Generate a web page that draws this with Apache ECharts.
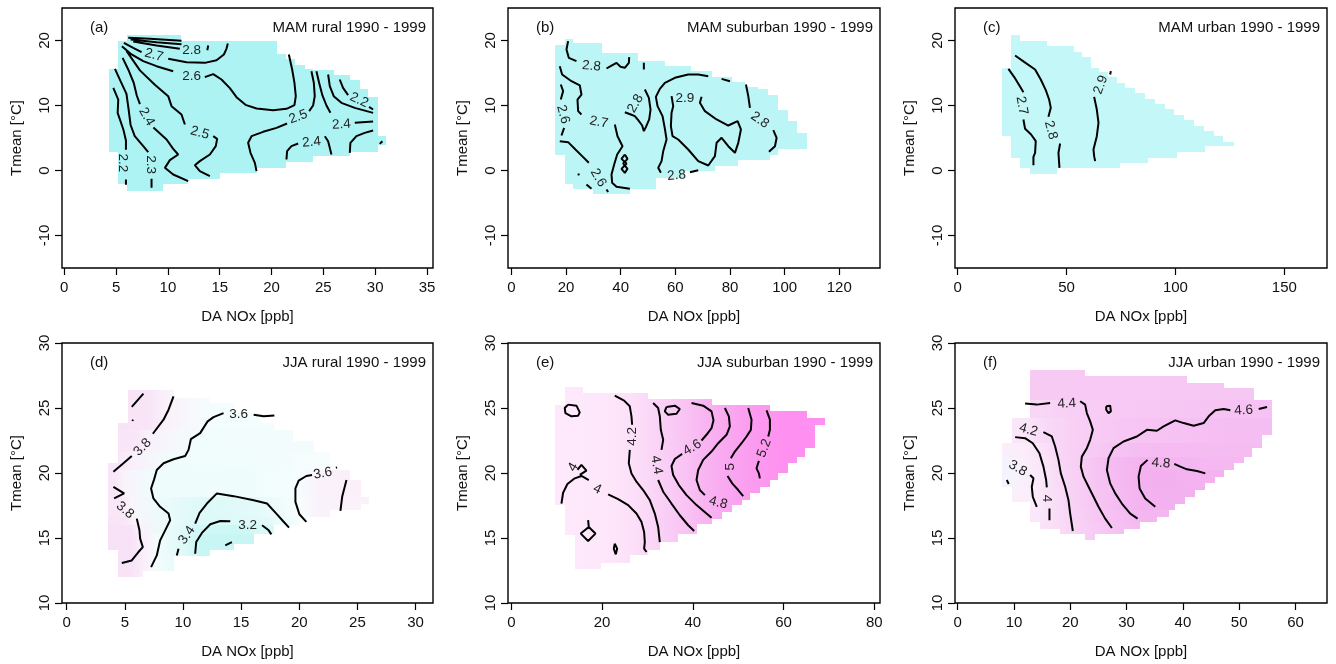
<!DOCTYPE html>
<html>
<head>
<meta charset="utf-8">
<script src="https://cdn.jsdelivr.net/npm/echarts@6/dist/echarts.min.js"></script>
<style>
  html, body { margin: 0; padding: 0; background: #fff; }
  #chart { width: 1336px; height: 664px; }
</style>
</head>
<body>
<div id="chart"></div>
<script>
// ---------- axes ----------
const FONT = '"Liberation Sans", Arial, sans-serif';
const yTicksMAM = [-10, 0, 10, 20];
const yTicksJJA = [10, 15, 20, 25, 30];
const xTicksA = [0, 5, 10, 15, 20, 25, 30, 35];
const xTicksB = [0, 20, 40, 60, 80, 100, 120];
const xTicksC = [0, 50, 100, 150];
const xTicksD = [0, 5, 10, 15, 20, 25, 30];
const xTicksE = [0, 20, 40, 60, 80];
const xTicksF = [0, 10, 20, 30, 40, 50, 60];

// ---------- filled (data-covered) cells: [yLow, yHigh, xLeft, xRight] ----------
const maskA = [
  [-3.08, -2.15, 6.01, 9.55], [-2.15, -1.38, 5.21, 11.96], [-1.38, -0.36, 5.21, 15.01],
  [-0.36, 0.4, 5.21, 18.55], [0.4, 1.28, 5.21, 21.44], [1.28, 2.2, 5.21, 24.0],
  [2.2, 2.9, 5.21, 27.55], [2.9, 4.0, 4.31, 30.28], [4.0, 5.38, 4.31, 31.08],
  [5.38, 11.33, 4.31, 30.28], [11.33, 12.6, 4.31, 29.3], [12.6, 13.85, 4.31, 28.5],
  [13.85, 14.7, 4.31, 27.55], [14.7, 15.4, 4.31, 26.0], [15.4, 15.64, 4.31, 24.0],
  [15.64, 16.3, 5.21, 23.2], [16.3, 17.1, 5.21, 22.3], [17.1, 17.85, 5.21, 21.4],
  [17.85, 19.9, 5.21, 20.48], [19.9, 20.77, 6.01, 11.31]
];
const maskB = [
  [-3.69, -2.9, 29.9, 43.35], [-2.9, -2.15, 22.6, 53.1], [-2.15, -1.13, 19.5, 53.1],
  [-1.13, -0.1, 19.5, 63.5], [-0.1, 0.67, 19.5, 74.5], [0.67, 1.54, 19.5, 83.0],
  [1.54, 2.36, 19.5, 94.6], [2.36, 3.33, 15.9, 97.7], [3.33, 5.79, 15.9, 108.1],
  [5.79, 7.59, 15.9, 104.4], [7.59, 9.38, 15.9, 101.3], [9.38, 11.69, 15.9, 97.7],
  [11.69, 12.56, 15.9, 94.0], [12.56, 12.87, 15.9, 90.35], [12.87, 13.59, 15.9, 85.5],
  [13.59, 14.41, 15.9, 80.6], [14.41, 15.38, 15.9, 73.3], [15.38, 16.15, 15.9, 65.9],
  [16.15, 16.92, 15.9, 56.2], [16.92, 18.1, 15.9, 46.4], [18.1, 19.38, 15.9, 33.0],
  [19.38, 19.64, 19.5, 33.0], [19.64, 20.26, 19.5, 22.6]
];
const maskC = [
  [-0.5, 0.4, 33.2, 45.5], [0.4, 1.1, 28.7, 74.6], [1.1, 2.0, 28.7, 87.6],
  [2.0, 2.8, 24.4, 100.7], [2.8, 3.7, 24.4, 113.7], [3.7, 4.4, 24.4, 126.7],
  [4.4, 5.3, 24.4, 122.0], [5.3, 6.1, 20.2, 117.5], [6.1, 6.9, 20.2, 113.0],
  [6.9, 7.7, 20.2, 108.5], [7.7, 8.5, 20.2, 104.0], [8.5, 9.4, 20.2, 99.5],
  [9.4, 10.2, 20.2, 95.0], [10.2, 11.0, 20.2, 90.5], [11.0, 11.9, 20.2, 86.0],
  [11.9, 12.7, 20.2, 81.5], [12.7, 13.5, 20.2, 77.0], [13.5, 14.4, 20.2, 73.0],
  [14.4, 15.2, 20.2, 69.0], [15.2, 15.8, 20.2, 65.0], [15.8, 17.4, 24.4, 61.0],
  [17.4, 18.3, 24.4, 57.0], [18.3, 19.1, 24.4, 53.2], [19.1, 19.9, 24.4, 40.9],
  [19.9, 20.8, 24.4, 28.7]
];
const maskD = [
  [11.98, 12.5, 4.45, 6.6], [12.5, 13.58, 4.45, 9.19], [13.58, 14.05, 4.45, 12.35],
  [14.05, 14.56, 3.59, 14.36], [14.56, 15.34, 3.59, 16.08], [15.34, 15.98, 3.59, 17.8],
  [15.98, 16.6, 3.59, 20.1], [16.6, 17.14, 3.59, 22.68], [17.14, 17.65, 3.59, 25.27],
  [17.65, 18.17, 3.59, 25.98], [18.17, 19.5, 3.59, 25.27], [19.5, 20.23, 3.59, 24.4],
  [20.23, 20.75, 3.59, 22.7], [20.75, 21.65, 4.45, 22.68], [21.65, 22.5, 4.45, 21.25],
  [22.5, 23.3, 4.45, 19.5], [23.3, 23.84, 4.45, 17.8], [23.84, 24.6, 5.31, 16.5],
  [24.6, 25.39, 5.31, 14.36], [25.39, 25.77, 5.31, 12.35], [25.77, 26.37, 5.31, 9.19]
];
const maskE = [
  [12.63, 13.07, 13.97, 19.85], [13.07, 13.66, 13.97, 26.1], [13.66, 14.05, 13.97, 30.15],
  [14.05, 14.69, 13.97, 32.72], [14.69, 15.21, 13.97, 36.76], [15.21, 15.34, 11.76, 36.76],
  [15.34, 16.06, 11.76, 40.81], [16.06, 16.49, 11.76, 44.12], [16.49, 17.01, 11.76, 46.32],
  [17.01, 17.53, 11.76, 48.53], [17.53, 17.91, 9.71, 50.74], [17.91, 18.43, 9.71, 52.57],
  [18.43, 18.94, 9.71, 54.78], [18.94, 19.46, 9.71, 56.99], [19.46, 19.97, 9.71, 58.82],
  [19.97, 20.75, 9.71, 61.03], [20.75, 21.26, 9.71, 62.87], [21.26, 21.91, 9.71, 64.71],
  [21.91, 23.71, 9.71, 66.91], [23.71, 24.23, 9.71, 69.12], [24.23, 24.74, 9.71, 65.07],
  [24.74, 25.26, 9.71, 56.99], [25.26, 25.7, 11.76, 44.12], [25.7, 26.16, 11.76, 30.15],
  [26.16, 26.62, 11.76, 15.81]
];
const maskF = [
  [14.82, 15.34, 22.64, 24.42], [15.34, 15.72, 18.2, 29.46], [15.72, 16.24, 14.64, 32.42],
  [16.24, 16.62, 12.86, 35.39], [16.62, 17.14, 12.86, 37.46], [17.14, 17.65, 12.86, 38.65],
  [17.65, 17.78, 12.86, 40.43], [17.78, 18.17, 9.6, 40.43], [18.17, 18.69, 9.6, 42.21],
  [18.69, 18.94, 9.6, 43.98], [18.94, 19.2, 7.82, 43.98], [19.2, 19.72, 7.82, 45.76],
  [19.72, 20.23, 7.82, 47.24], [20.23, 20.75, 7.82, 49.02], [20.75, 21.26, 7.82, 50.8],
  [21.26, 21.91, 7.82, 52.28], [21.91, 22.29, 7.82, 54.06], [22.29, 22.94, 9.6, 54.06],
  [22.94, 24.23, 9.6, 55.84], [24.23, 25.64, 12.86, 55.84], [25.64, 26.55, 12.86, 52.58],
  [26.55, 26.93, 12.86, 47.24], [26.93, 27.45, 12.86, 40.72], [27.45, 27.91, 12.86, 22.64]
];

// ---------- O3 level nodes for the shading: [from y, [[x, level], ...]] ----------
const shadeFlat = [[-100, [[-100, 0]]]];
const shadeD = [
  [11.9,  [[0, 3.9], [5.5, 3.88], [6.8, 3.72], [7.8, 3.55], [10.5, 3.3], [11.5, 3.15], [14, 3.15]]],
  [15.3,  [[0, 3.9], [5.5, 3.88], [6.2, 3.72], [8.7, 3.45], [11.8, 3.2], [15, 3.18], [17, 3.3]]],
  [15.95, [[0, 3.88], [5, 3.85], [6.0, 3.7], [9.0, 3.45], [11.2, 3.32], [17, 3.35], [18.8, 3.5], [20, 3.55]]],
  [16.55, [[0, 3.85], [4.5, 3.82], [5.5, 3.68], [8.2, 3.46], [12.0, 3.33], [16, 3.38], [18.0, 3.48], [20.0, 3.6], [21.5, 3.7], [24, 3.72]]],
  [18.15, [[0, 3.86], [4.2, 3.84], [5, 3.7], [7.4, 3.5], [15, 3.5], [19.8, 3.58], [21.5, 3.7], [24, 3.74]]],
  [20.2,  [[0, 3.85], [4.5, 3.82], [6, 3.72], [9.0, 3.52], [18, 3.54], [22, 3.6]]],
  [21.6,  [[0, 3.88], [6, 3.84], [7, 3.72], [11.0, 3.53], [18, 3.55]]],
  [23.25, [[0, 3.9], [7, 3.86], [8.5, 3.72], [12.5, 3.57], [16, 3.57]]]
];
const shadeE = [
  [0, [[0, 4.0], [14, 4.02], [18, 4.05], [22, 4.1], [25, 4.17], [27, 4.24], [29, 4.3], [31, 4.38],
       [33, 4.46], [35, 4.54], [37, 4.62], [39, 4.7], [41, 4.78], [43, 4.86], [45, 4.93], [47, 5.0],
       [50, 5.08], [53, 5.16], [56, 5.24], [59, 5.32], [62, 5.38]]]
];
const shadeF = [
  [14.8,  [[0, 4.0], [16, 4.1], [18, 4.2], [20.4, 4.3], [22, 4.38], [24, 4.45], [26, 4.52], [28, 4.6], [30, 4.66], [32, 4.72]]],
  [16.2,  [[0, 3.9], [14, 4.0], [16, 4.1], [18, 4.2], [20, 4.3], [22, 4.4], [24, 4.48], [26, 4.56], [28.5, 4.64], [31, 4.72], [33, 4.78]]],
  [17.1,  [[0, 3.8], [13, 3.9], [14.5, 4.0], [16, 4.1], [18, 4.2], [19.5, 4.3], [21.5, 4.4], [23.5, 4.48], [25.5, 4.56], [28, 4.66], [30, 4.74], [32.5, 4.82], [36, 4.86]]],
  [18.9,  [[0, 3.72], [9.6, 3.78], [11, 3.85], [13, 3.93], [15, 4.02], [16.5, 4.12], [18, 4.22], [19.5, 4.3], [21, 4.38], [22.8, 4.46], [25, 4.56], [27, 4.66], [29.5, 4.74], [32.3, 4.84], [36, 4.88], [40, 4.84]]],
  [20.2,  [[0, 3.75], [10, 3.82], [12, 3.9], [13.5, 3.98], [15.5, 4.08], [17, 4.18], [18.5, 4.28], [20.5, 4.38], [22.2, 4.46], [24.5, 4.56], [26.6, 4.66], [29, 4.74], [33, 4.82], [38, 4.8], [44, 4.74]]],
  [21.2,  [[0, 3.82], [11.5, 3.92], [13.5, 4.0], [15, 4.1], [16.5, 4.2], [18, 4.3], [20.5, 4.38], [23, 4.45], [26, 4.52], [28, 4.6], [32, 4.66], [37, 4.7], [44, 4.68]]],
  [22.25, [[0, 3.98], [12, 4.05], [14, 4.15], [16, 4.25], [18.5, 4.32], [21, 4.38], [24, 4.44], [28, 4.5], [32, 4.55], [38, 4.6], [45, 4.64], [50, 4.66]]],
  [23.5,  [[0, 4.22], [15, 4.28], [18, 4.34], [21, 4.4], [24, 4.44], [30, 4.48], [38, 4.52], [45, 4.56], [50, 4.6]]],
  [25.3,  [[0, 4.45], [18, 4.47], [30, 4.48], [40, 4.5], [48, 4.52]]]
];

// ---------- contour lines (x, y) ----------
const contoursA = [
  [[6.17, 20.41], [8.26, 20.26], [11.31, 19.95]],
  [[6.4, 20.15], [8.9, 19.74], [11.31, 19.44]],
  [[6.65, 19.85], [8.9, 19.23], [11.15, 18.72]],
  [[13.89, 19.23], [13.8, 18.5]],
  [[5.75, 19.64], [6.65, 18.87], [7.46, 18.21]],
  [[10.03, 17.18], [11.8, 16.67], [13.56, 16.56], [14.69, 16.97], [15.4, 17.85], [15.65, 18.72], [15.78, 19.54]],
  [[5.56, 19.13], [6.49, 17.85], [7.62, 16.82], [8.9, 16.05], [10.51, 15.28]],
  [[13.56, 14.36], [14.37, 14.82], [15.17, 14.0], [15.98, 12.67], [16.62, 11.28], [17.49, 10.1], [18.55, 9.54], [20.15, 9.28], [21.44, 9.49], [22.21, 10.05], [22.34, 11.44], [22.21, 13.49], [21.99, 15.54], [21.67, 17.85]],
  [[6.0, 18.4], [7.3, 15.4], [8.74, 13.2], [10.03, 11.44], [10.35, 9.9], [11.31, 8.62], [11.64, 7.08]],
  [[14.37, 5.28], [14.75, 4.87], [14.62, 3.74], [14.05, 2.46], [13.08, 1.44], [12.6, 0.82], [13.08, -0.1], [14.05, -0.87]],
  [[5.63, 17.33], [6.17, 15.54], [6.7, 13.5], [7.0, 11.5], [7.3, 10.2]],
  [[8.6, 6.6], [9.87, 4.77], [10.51, 3.33], [10.99, 2.46], [10.19, 1.59], [9.71, 0.41], [10.51, -0.62], [11.96, -1.64]],
  [[4.89, 15.64], [5.43, 13.74], [6.0, 11.8], [6.2, 9.5], [6.4, 7.0], [6.8, 5.3], [7.62, 3.74], [8.1, 2.82]],
  [[8.42, -1.28], [8.42, -2.67]],
  [[4.73, 12.72], [5.21, 10.92], [5.15, 8.87], [5.7, 6.31], [5.95, 4.6], [5.95, 3.2]],
  [[5.95, -1.38], [5.95, -2.2]],
  [[18.55, -0.1], [18.39, 1.18], [17.97, 2.72], [17.74, 4.26], [18.07, 5.28], [19.19, 5.95], [20.48, 6.56], [21.5, 7.23]],
  [[23.63, 9.13], [24.01, 10.0], [24.17, 11.44], [24.08, 13.49], [23.85, 15.28]],
  [[24.33, 15.28], [24.59, 13.49], [24.91, 11.54], [25.3, 10.0], [25.68, 8.87]],
  [[28.03, 7.33], [29.8, 7.54]],
  [[25.46, 14.77], [25.62, 12.97], [26.0, 11.44], [26.74, 10.41], [28.03, 9.64], [29.8, 8.87]],
  [[26.58, 14.0], [26.9, 12.72], [27.39, 11.59]],
  [[29.41, 9.79], [29.8, 9.38]],
  [[21.44, 1.69], [21.5, 2.97], [21.92, 3.74], [22.57, 4.15]],
  [[25.14, 5.28], [25.46, 4.51], [25.62, 3.49], [25.78, 2.46]],
  [[27.55, 2.72], [27.61, 4.26], [28.19, 5.28], [28.99, 5.79], [29.8, 6.15]],
  [[30.44, 4.1], [30.7, 4.51]]
];
const contoursB = [
  [[20.76, 19.9], [20.15, 18.62], [21.0, 17.33], [23.81, 16.82]],
  [[34.8, 15.69], [36.63, 16.15], [38.46, 16.56], [39.93, 15.95], [41.5, 15.8], [42.98, 16.56], [43.1, 17.44]],
  [[48.47, 16.56], [48.47, 15.54]],
  [[17.7, 16.05], [18.56, 14.77], [21.98, 13.74], [25.03, 13.08], [25.64, 11.69], [24.18, 10.92], [24.42, 9.13], [25.64, 8.62]],
  [[37.85, 7.08], [38.83, 5.28], [40.66, 3.74], [38.71, 2.46], [37.61, 0.92], [36.63, -0.62], [36.87, -1.9], [38.46, -2.51], [43.35, -2.82]],
  [[41.51, 2.46], [42.49, 1.79], [40.9, 1.08], [42.49, 0.26], [41.51, -0.36], [40.29, 0.26], [42.12, 1.08], [40.29, 1.79], [41.51, 2.46]],
  [[18.07, 13.23], [18.93, 12.21], [18.07, 10.92]],
  [[19.29, 6.56], [18.32, 5.38]],
  [[17.7, 4.51], [20.76, 4.36], [23.44, 3.23], [25.89, 2.21], [28.33, 1.18]],
  [[34.8, -2.92], [35.4, -3.3]],
  [[24.5, -0.45], [24.7, -0.75]],
  [[27.47, -2.15], [29.3, -2.82]],
  [[48.84, 12.46], [50.31, 11.18], [50.92, 9.38], [50.43, 7.85], [49.21, 6.67], [48.47, 6.05], [47.86, 6.92], [46.4, 7.74], [45.18, 8.36], [43.71, 8.62], [41.51, 8.97]],
  [[72.04, 14.51], [68.38, 14.77], [64.71, 14.77], [59.83, 14.26], [56.17, 13.49], [54.33, 12.56], [52.87, 11.33], [53.48, 9.9], [55.31, 8.36], [56.17, 6.41], [56.78, 4.77], [55.56, 2.97], [54.95, 1.44], [53.72, 0.41], [54.7, -0.36]],
  [[65.32, -0.26], [68.38, 0.05]],
  [[76.92, 14.1], [79.98, 13.74]],
  [[69.6, 11.33], [68.99, 10.41], [70.82, 9.13], [75.09, 7.85], [79.37, 6.92], [82.78, 7.59], [84.0, 6.31], [83.03, 4.26], [81.81, 2.72], [79.37, 3.74], [76.92, 5.03], [75.09, 4.26], [74.48, 2.21], [72.04, 0.77], [68.38, 1.44], [64.71, 3.23], [61.05, 4.77], [58.97, 5.28], [58.36, 6.82], [58.61, 8.87], [59.22, 9.9], [58.61, 11.44]],
  [[85.84, 13.23], [86.69, 11.44], [87.3, 9.64]],
  [[95.85, 6.21], [97.07, 5.03], [96.46, 3.74], [94.26, 2.87]]
];
const contoursC = [
  [[23.29, 15.64], [25.89, 14.41], [28.34, 13.08], [30.18, 12.05]],
  [[30.18, 7.85], [30.95, 6.41], [33.71, 5.54], [35.85, 4.51], [35.54, 2.72], [34.78, 2.1], [34.78, 0.82]],
  [[26.35, 17.69], [30.49, 16.72], [35.54, 15.54], [38.15, 14.0], [40.45, 12.36], [41.98, 10.92], [42.75, 9.64], [41.67, 8.26]],
  [[47.04, 4.15], [46.27, 2.72], [46.73, 0.41]],
  [[62.66, 11.33], [63.89, 9.38], [64.66, 7.33], [63.89, 5.28], [62.36, 3.23], [62.66, 2.21], [63.12, 1.44]],
  [[70.02, 14.77], [70.32, 15.28]]
];
const contoursD = [
  [[4.02, 20.1], [4.88, 20.75], [5.6, 21.3]],
  [[7.41, 23.02], [8.33, 24.1], [8.76, 24.87], [9.19, 25.9]],
  [[5.6, 25.08], [6.6, 26.11]],
  [[5.66, 24.0], [5.7, 24.1]],
  [[4.02, 18.94], [4.94, 18.43], [4.08, 18.04]],
  [[6.03, 16.49], [6.26, 15.59], [6.32, 14.95], [6.55, 14.3], [6.17, 13.92], [5.6, 13.27], [4.74, 13.07]],
  [[7.26, 12.76], [7.75, 13.66], [8.04, 14.82], [8.47, 15.59], [8.9, 16.37], [8.76, 16.88], [8.04, 17.4], [7.46, 18.04], [7.26, 18.81], [7.52, 19.51], [7.75, 20.23], [8.33, 20.75], [9.19, 21.06], [10.19, 21.31], [10.48, 21.78], [10.68, 22.6], [11.48, 23.07], [12.12, 23.97], [12.63, 24.3], [13.49, 24.61]],
  [[16.08, 24.48], [16.94, 24.36], [17.86, 24.43]],
  [[9.47, 13.66], [9.62, 14.18]],
  [[11.05, 16.11], [11.43, 16.93], [12.06, 17.65], [12.92, 18.43], [14.36, 18.22], [16.08, 17.91], [17.23, 17.65], [18.03, 16.88], [18.6, 16.31], [19.12, 15.8]],
  [[11.05, 13.79], [11.14, 14.69], [11.63, 15.39], [12.35, 16.06], [13.21, 16.31], [14.07, 16.29]],
  [[16.8, 15.98], [17.37, 15.59], [17.6, 15.28]],
  [[13.64, 14.43], [14.21, 14.69]],
  [[20.61, 16.24], [20.01, 16.83], [19.67, 17.78], [19.67, 18.81], [19.95, 19.41], [20.61, 19.77], [21.1, 19.85]],
  [[23.15, 20.4], [23.25, 20.43]],
  [[23.54, 17.09], [23.69, 18.17], [24.06, 19.46]]
];
const contoursE = [
  [[12.5, 25.26], [14.34, 25.18], [15.07, 24.66], [14.71, 24.41], [13.24, 24.36], [11.91, 24.61], [11.76, 25.0], [12.5, 25.26]],
  [[11.03, 17.65], [11.4, 18.48], [12.35, 19.15], [13.97, 19.59], [15.44, 19.77], [17.06, 19.46]],
  [[21.32, 18.35], [23.53, 17.99], [25.74, 17.53], [27.57, 16.88], [28.68, 16.24], [29.26, 15.46], [29.41, 14.69], [29.26, 14.18], [29.78, 13.92]],
  [[14.56, 20.25], [15.44, 20.62], [16.54, 20.18], [15.07, 19.85]],
  [[22.79, 25.95], [24.85, 25.57], [26.1, 25.13], [26.47, 24.36], [26.62, 23.71]],
  [[26.1, 21.78], [25.88, 20.75], [26.47, 19.97], [27.57, 19.33], [29.04, 18.69], [30.51, 17.91], [31.62, 16.88], [32.35, 15.85], [32.72, 14.69]],
  [[31.25, 25.39], [32.35, 25.0], [32.72, 24.36], [32.94, 23.32], [33.46, 22.55], [33.09, 21.78]],
  [[32.35, 19.46], [33.46, 18.56], [35.29, 17.65], [37.13, 16.75], [38.97, 15.98], [40.29, 15.54]],
  [[39.71, 25.39], [42.28, 25.18], [44.12, 24.74], [44.56, 24.05], [44.12, 23.45], [43.01, 22.94], [41.91, 22.5]],
  [[37.65, 21.47], [36.03, 21.08], [35.29, 20.54], [35.66, 19.85], [36.91, 19.07], [38.6, 18.3], [40.81, 17.53], [43.01, 16.88], [44.12, 16.55]],
  [[47.06, 25.0], [47.94, 24.36], [48.16, 23.58], [47.43, 22.94], [45.59, 22.29], [44.12, 21.65], [42.28, 21.01], [41.18, 20.23], [40.81, 19.46], [41.54, 18.69], [42.65, 18.3]],
  [[52.21, 25.0], [52.94, 24.1], [52.79, 23.32], [51.84, 22.81], [50.74, 22.29], [49.26, 21.65], [48.38, 21.13]],
  [[47.65, 19.77], [48.68, 19.2], [50.0, 18.69], [51.1, 18.22]],
  [[56.25, 24.82], [56.99, 24.1], [56.99, 23.32], [56.62, 22.81]],
  [[54.56, 20.93], [54.04, 20.36], [54.56, 19.97], [54.78, 19.59]],
  [[16.91, 16.37], [17.06, 15.85]],
  [[17.06, 15.85], [18.53, 15.34], [16.91, 14.77], [15.29, 15.34], [17.06, 15.85]],
  [[22.79, 14.56], [23.31, 14.18], [23.01, 13.74], [22.57, 14.18], [22.79, 14.56]],
  [[34.19, 25.08], [36.03, 25.18], [37.13, 24.92], [36.4, 24.56], [34.56, 24.48], [33.82, 24.74], [34.19, 25.08]]
];
const contoursF = [
  [[11.97, 25.34], [14.05, 25.26], [16.42, 25.39]],
  [[21.75, 25.52], [22.64, 25.26], [22.94, 24.61], [23.53, 23.97], [24.01, 23.32], [23.53, 22.55], [22.94, 21.91], [22.05, 21.26], [21.87, 20.49], [22.35, 19.72], [23.24, 18.94], [24.13, 18.17], [25.01, 17.4], [26.2, 16.49], [27.39, 15.77]],
  [[26.38, 25.13], [27.09, 25.18], [27.21, 24.74], [26.79, 24.61], [26.38, 24.87], [26.38, 25.13]],
  [[54.95, 25.08], [53.47, 24.92]],
  [[48.43, 24.82], [47.24, 24.92], [45.76, 24.82], [44.58, 24.36], [43.69, 23.84], [41.91, 23.63], [40.13, 23.84], [38.65, 24.05], [36.57, 23.58], [35.39, 23.25], [33.61, 23.32], [31.83, 22.81], [29.46, 22.42], [27.68, 21.91], [26.79, 21.13], [26.5, 20.23], [27.09, 19.2], [27.98, 18.43], [29.16, 17.65], [30.65, 16.88], [31.95, 16.49]],
  [[43.98, 19.97], [42.5, 20.15], [40.72, 20.28], [39.54, 20.49], [38.47, 20.7]],
  [[33.73, 21.01], [32.54, 20.54], [32.13, 19.72], [32.31, 18.81], [33.31, 18.04], [35.09, 17.4]],
  [[15.23, 23.14], [16.72, 22.81], [17.31, 22.04], [17.9, 21.01], [18.32, 19.97], [19.09, 18.94], [19.68, 17.91], [19.98, 16.88], [20.45, 15.54]],
  [[10.2, 22.76], [11.97, 22.68], [13.34, 22.29], [14.52, 21.52], [15.23, 20.49], [15.71, 19.46], [15.83, 18.89]],
  [[16.3, 17.27], [16.3, 16.37]],
  [[12.86, 19.85], [13.46, 19.59], [13.16, 18.94], [13.34, 18.17], [14.05, 17.4]],
  [[8.71, 19.46], [9.07, 19.15]]
];

// ---------- contour labels: [x, y, text, angle in degrees] ----------
const labelsA = [
  [12.28, 18.51, '2.8', 0], [8.65, 17.74, '2.7', -15], [12.28, 14.51, '2.6', 0],
  [13.08, 5.79, '2.5', -15], [7.94, 8.26, '2.4', -60], [8.33, 0.92, '2.3', -90],
  [5.63, 1.18, '2.2', -90], [22.57, 8.26, '2.5', 20], [26.74, 7.08, '2.4', 3],
  [28.45, 10.82, '2.2', -25], [23.85, 4.36, '2.4', 5]
];
const labelsB = [
  [29.3, 16.05, '2.8', -5], [31.99, 7.44, '2.7', -10], [18.93, 8.62, '2.6', -75],
  [31.75, -1.13, '2.6', -60], [45.42, 10.31, '2.8', 60], [60.44, -0.77, '2.8', 5],
  [63.49, 11.13, '2.9', 0], [90.96, 7.74, '2.8', -35]
];
const labelsC = [[29.42, 10.0, '2.7', -80], [42.75, 6.21, '2.8', -75], [65.73, 13.18, '2.9', 70]];
const labelsD = [
  [6.52, 21.98, '3.8', 45], [5.02, 17.14, '3.8', -40], [14.79, 24.48, '3.6', 0],
  [10.34, 15.21, '3.4', 55], [15.56, 15.98, '3.2', 0], [22.02, 19.97, '3.6', 10]
];
const labelsE = [
  [13.6, 20.45, '4', 60], [18.9, 18.76, '4', -25], [26.62, 22.81, '4.2', 90],
  [31.99, 20.62, '4.4', -80], [39.85, 21.96, '4.6', 30], [45.59, 17.71, '4.8', -15],
  [48.16, 20.49, '5', 90], [55.74, 21.91, '5.2', 70]
];
const labelsF = [
  [19.38, 25.34, '4.4', 3], [50.8, 24.82, '4.6', 3], [36.1, 20.75, '4.8', -5],
  [12.57, 23.32, '4.2', -15], [15.83, 18.04, '4', -90], [10.67, 20.36, '3.8', -30]
];

// ---------- panel layout ----------
const panels = [
  { tag: '(a)', title: 'MAM rural 1990 - 1999',    box: [62, 8, 371, 260],  x: [-0.22, 35.58], xt: xTicksA, y: [-15, 25], yt: yTicksMAM, mask: maskA, shade: shadeFlat, fill: '#aef3f4', lines: contoursA, labels: labelsA },
  { tag: '(b)', title: 'MAM suburban 1990 - 1999', box: [508, 8, 372, 260], x: [-1.25, 134.9], xt: xTicksB, y: [-15, 25], yt: yTicksMAM, mask: maskB, shade: shadeFlat, fill: '#bcf5f6', lines: contoursB, labels: labelsB },
  { tag: '(c)', title: 'MAM urban 1990 - 1999',    box: [955, 8, 372, 260], x: [-1.24, 169.6], xt: xTicksC, y: [-15, 25], yt: yTicksMAM, mask: maskC, shade: shadeFlat, fill: '#c4f7f7', lines: contoursC, labels: labelsC },
  { tag: '(d)', title: 'JJA rural 1990 - 1999',    box: [62, 343, 371, 260], x: [-0.4, 31.5],  xt: xTicksD, y: [10, 30], yt: yTicksJJA, mask: maskD, shade: shadeD, lines: contoursD, labels: labelsD,
    colors: { min: 3.15, max: 3.9, c: ['#c8f6f4', '#d9f9f7', '#eafbfb', '#f7fdfd', '#fbeefa', '#f7e0f6'] } },
  { tag: '(e)', title: 'JJA suburban 1990 - 1999', box: [508, 343, 372, 260], x: [-0.75, 81.26], xt: xTicksE, y: [10, 30], yt: yTicksJJA, mask: maskE, shade: shadeE, lines: contoursE, labels: labelsE,
    colors: { min: 4.0, max: 5.4, c: ['#fdeafb', '#fce1f9', '#fad5f7', '#f9c8f5', '#f8b9f2', '#f9a9f0', '#fc99ef', '#ff8ef0'] } },
  { tag: '(f)', title: 'JJA urban 1990 - 1999',    box: [955, 343, 372, 260], x: [-0.48, 65.6], xt: xTicksF, y: [10, 30], yt: yTicksJJA, mask: maskF, shade: shadeF, lines: contoursF, labels: labelsF,
    colors: { min: 3.7, max: 4.9, c: ['#f0f8fc', '#fbeefb', '#f9e2f8', '#f8d5f6', '#f7c8f4', '#f5bbf2', '#f3aeef'] } }
];

// cut each covered row at the shading nodes; a cell keeps the level at both ends
function buildCells(mask, shade) {
  const out = [];
  mask.forEach(([y0, y1, x0, x1]) => {
    let zone = shade[0][1];
    shade.forEach(([yFrom, z]) => { if (y0 >= yFrom - 1e-6) zone = z; });
    zone.forEach(([xs, v], k) => {
      const next = zone[k + 1];
      const xe = next ? next[0] : Infinity;
      const ve = next ? next[1] : v;
      const a = Math.max(x0, xs), b = Math.min(x1, xe);
      if (b > a) {
        const at = x => (next ? v + (ve - v) * (x - xs) / (xe - xs) : v);
        out.push([a, b, y0, y1, at(a), at(b)]);
      }
    });
  });
  return out;
}

// join contour pieces into one polyline with breaks
function joinLines(lines) {
  const out = [];
  lines.forEach((ln, k) => {
    if (k) out.push(['-', '-']);
    ln.forEach(p => out.push(p));
  });
  return out;
}

function levelColor(p, v) {
  if (!p.colors) return p.fill;
  const t = Math.min(1, Math.max(0, (v - p.colors.min) / (p.colors.max - p.colors.min)));
  return echarts.color.lerp(t, p.colors.c);
}

function cellRenderer(p) {
  return function (params, api) {
    const a = api.coord([api.value(0), api.value(3)]);
    const b = api.coord([api.value(1), api.value(2)]);
    const x = Math.round(a[0]), y = Math.round(a[1]);
    const c0 = levelColor(p, api.value(4)), c1 = levelColor(p, api.value(5));
    const fill = c0 === c1 ? c0 : new echarts.graphic.LinearGradient(0, 0, 1, 0,
      [{ offset: 0, color: c0 }, { offset: 1, color: c1 }]);
    return {
      type: 'rect',
      shape: { x: x, y: y, width: Math.round(b[0]) - x, height: Math.round(b[1]) - y },
      style: { fill: fill }
    };
  };
}

function labelRenderer(list) {
  return function (params, api) {
    const d = list[params.dataIndex];
    const pt = api.coord([d[0], d[1]]);
    return {
      type: 'text', x: pt[0], y: pt[1], rotation: d[3] * Math.PI / 180,
      style: { text: d[2], fill: '#222', font: '13.5px ' + FONT, align: 'center', verticalAlign: 'middle' }
    };
  };
}

const grids = [], xAxes = [], yAxes = [], series = [], graphics = [];
const textStyle = { color: '#111', fontSize: 15, fontFamily: FONT };

panels.forEach((p, i) => {
  grids.push({ left: p.box[0], top: p.box[1], width: p.box[2], height: p.box[3], show: true,
    borderColor: '#000', borderWidth: 1.4, backgroundColor: 'transparent' });
  xAxes.push({
    gridIndex: i, type: 'value', min: p.x[0], max: p.x[1], position: 'bottom',
    axisLine: { show: false, onZero: false }, splitLine: { show: false },
    axisTick: { show: true, length: 7, lineStyle: { color: '#000', width: 1.2 }, customValues: p.xt },
    axisLabel: Object.assign({ customValues: p.xt, margin: 12 }, textStyle),
    name: 'DA NOx [ppb]', nameLocation: 'middle', nameGap: 41, nameTextStyle: textStyle
  });
  yAxes.push({
    gridIndex: i, type: 'value', min: p.y[0], max: p.y[1], position: 'left',
    axisLine: { show: false, onZero: false }, splitLine: { show: false },
    axisTick: { show: true, length: 7, lineStyle: { color: '#000', width: 1.2 }, customValues: p.yt },
    axisLabel: Object.assign({ customValues: p.yt, margin: 10, rotate: 90 }, textStyle),
    name: 'Tmean [°C]', nameLocation: 'middle', nameGap: 38, nameTextStyle: textStyle
  });
  series.push({
    type: 'custom', xAxisIndex: i, yAxisIndex: i, silent: true, animation: false, z: 1,
    data: buildCells(p.mask, p.shade), renderItem: cellRenderer(p)
  });
  series.push({
    type: 'line', xAxisIndex: i, yAxisIndex: i, silent: true, animation: false, z: 3,
    data: joinLines(p.lines), symbol: 'none', showSymbol: false, connectNulls: false,
    lineStyle: { color: '#000', width: 2 }
  });
  series.push({
    type: 'custom', xAxisIndex: i, yAxisIndex: i, silent: true, animation: false, z: 4,
    data: p.labels.map(d => [d[0], d[1]]), renderItem: labelRenderer(p.labels)
  });
  graphics.push({ type: 'text', left: p.box[0] + 28, top: p.box[1] + 12,
    style: { text: p.tag, font: '15px ' + FONT, fill: '#111' } });
  graphics.push({ type: 'text', right: 1336 - (p.box[0] + p.box[2] - 7), top: p.box[1] + 12,
    style: { text: p.title, font: '15px ' + FONT, fill: '#111' } });
});

const chart = echarts.init(document.getElementById('chart'), null, { renderer: 'canvas' });
chart.setOption({
  animation: false,
  backgroundColor: '#ffffff',
  grid: grids, xAxis: xAxes, yAxis: yAxes,
  series: series,
  graphic: graphics
});
</script>
</body>
</html>
